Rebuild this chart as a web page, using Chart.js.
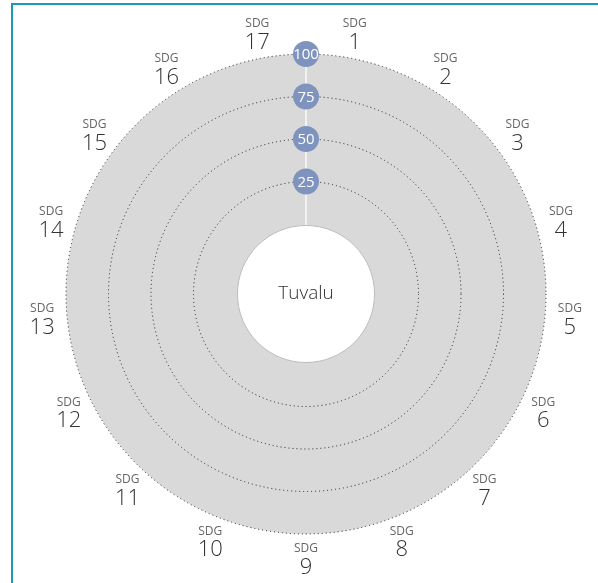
<!DOCTYPE html>
<html>
<head>
<meta charset="utf-8">
<script src="https://cdn.jsdelivr.net/npm/chart.js@4"></script>
<style>
  html, body { margin: 0; padding: 0; background: #fff; }
  #wrap { position: relative; width: 598px; height: 583px; }
  #frame { position: absolute; left: 11px; top: 3px; right: 0; bottom: 0;
           border-left: 2px solid #1b9bb6; border-top: 2px solid #1b9bb6; }
  canvas { position: absolute; left: 0; top: 0; }
</style>
</head>
<body>
<div id="wrap">
  <div id="frame"></div>
  <canvas id="SdgChart" width="598" height="583"></canvas>
</div>
<script>
// goals around the wheel
const goals = ["1","2","3","4","5","6","7","8","9","10","11","12","13","14","15","16","17"];
// Tuvalu: no scores available
const scores = [null,null,null,null,null,null,null,null,null,null,null,null,null,null,null,null,null];
const tickValues = [25, 50, 75, 100];
const country = "Tuvalu";

const FONT = "'Open Sans', 'Noto Sans', sans-serif";

// white hole in the middle, label, white spoke and blue badges
const wheelPlugin = {
    id: "wheel",
    afterDatasetsDraw(chart) {
        const ctx = chart.ctx;
        const r = chart.scales.r;
        const cx = r.xCenter, cy = r.yCenter;
        const inner = r.getDistanceFromCenterForValue(0) - 1.5;
        const outer = r.getDistanceFromCenterForValue(100);

        // spoke
        ctx.save();
        ctx.strokeStyle = "#f2f2f2";
        ctx.lineWidth = 2;
        ctx.beginPath();
        ctx.moveTo(cx, cy - inner);
        ctx.lineTo(cx, cy - outer);
        ctx.stroke();

        // hole
        ctx.beginPath();
        ctx.arc(cx, cy, inner, 0, Math.PI * 2);
        ctx.fillStyle = "#fff";
        ctx.fill();
        ctx.strokeStyle = "#bdbdbd";
        ctx.lineWidth = 1;
        ctx.stroke();

        ctx.fillStyle = "#333";
        ctx.font = "300 19px " + FONT;
        ctx.textAlign = "center";
        ctx.textBaseline = "middle";
        ctx.fillText(country, cx, cy);

        // badges
        tickValues.forEach(v => {
            const d = r.getDistanceFromCenterForValue(v);
            ctx.beginPath();
            ctx.arc(cx, cy - d, 13, 0, Math.PI * 2);
            ctx.fillStyle = "#7f93bf";
            ctx.fill();
            ctx.fillStyle = "#fff";
            ctx.font = "15px " + FONT;
            ctx.fillText(String(v), cx, cy - d + 1);
        });

        // goal labels
        const n = goals.length;
        const labelDist = outer + 25;
        goals.forEach((g, i) => {
            const a = -Math.PI / 2 + (i + 0.5) * 2 * Math.PI / n;
            const x = cx + Math.cos(a) * labelDist;
            const y = cy + Math.sin(a) * labelDist;
            ctx.fillStyle = "#666";
            ctx.font = "12px " + FONT;
            ctx.fillText("SDG", x, y - 10);
            ctx.fillStyle = "#333";
            ctx.font = "300 22px " + FONT;
            ctx.fillText(g, x, y + 9);
        });
        ctx.restore();
    }
};

const ctx = document.getElementById("SdgChart").getContext("2d");

new Chart(ctx, {
    type: "polarArea",
    data: {
        labels: goals.map(g => "SDG " + g),
        datasets: [{
            label: country,
            data: scores,
            backgroundColor: "#7f93bf",
            borderWidth: 0
        }]
    },
    options: {
        responsive: false,
        animation: false,
        layout: { padding: { left: 66, right: 52, top: 54, bottom: 49 } },
        plugins: { legend: { display: false }, tooltip: { enabled: false } },
        scales: {
            r: {
                min: -41.2,
                max: 100,
                backgroundColor: "#d9d9d9",
                afterBuildTicks: scale => { scale.ticks = tickValues.map(v => ({ value: v })); },
                ticks: { display: false },
                angleLines: { display: false },
                pointLabels: { display: false },
                grid: { circular: true, color: "#222", lineWidth: 1 },
                border: { dash: [1, 3] }
            }
        }
    },
    plugins: [wheelPlugin]
});
</script>
</body>
</html>
